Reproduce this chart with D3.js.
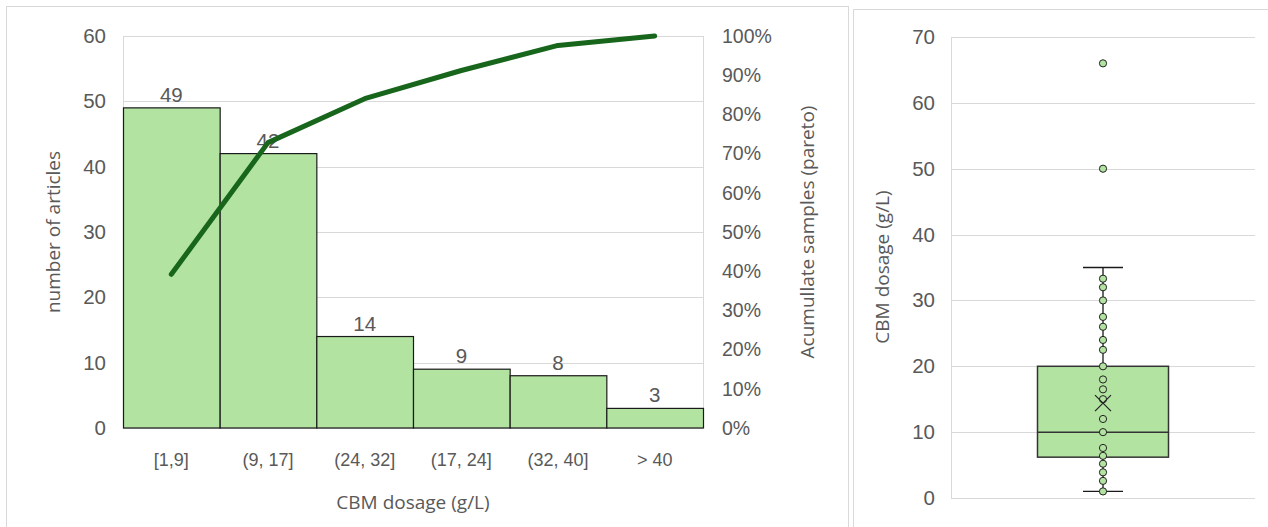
<!DOCTYPE html>
<html>
<head>
<meta charset="utf-8">
<script src="https://cdn.jsdelivr.net/npm/d3@7"></script>
<style>
  html, body { margin: 0; padding: 0; background: #fff; }
  svg { display: block; }
  text { font-family: "Liberation Sans", Arial, sans-serif; fill: #595959; }
  .lbl { font-family: "Open Sans", "Noto Sans", sans-serif; }
</style>
</head>
<body>
<svg id="chart" width="1268" height="527"></svg>
<script>
// ---------- data ----------
const categories = ["[1,9]", "(9, 17]", "(24, 32]", "(17, 24]", "(32, 40]", "> 40"];
const counts = [49, 42, 14, 9, 8, 3];
const cumulativePct = [0.392, 0.728, 0.84, 0.912, 0.976, 1.0];
const leftTicks = [0, 10, 20, 30, 40, 50, 60];
const rightTicks = [0, 0.1, 0.2, 0.3, 0.4, 0.5, 0.6, 0.7, 0.8, 0.9, 1.0];

const dosagePoints = [1, 2.6, 3.9, 5.2, 6.4, 7.6, 10, 12, 15, 16.5, 18, 20, 22.5, 24, 26, 27.5, 30, 32, 33.3, 50, 66];
const boxStats = { min: 1, q1: 6.2, median: 10, q3: 20, max: 35, mean: 14.4 };
const boxTicks = [0, 10, 20, 30, 40, 50, 60, 70];

// ---------- styles ----------
const barFill = "#b3e3a1";
const lineColor = "#17661c";
const gridColor = "#d9d9d9";
const textColor = "#595959";
const tickFont = 20.5;
const titleFont = 19;

const svg = d3.select("#chart");

// panel borders
svg.append("rect").attr("x", 6.5).attr("y", 6.5).attr("width", 842).attr("height", 540)
  .attr("fill", "#fff").attr("stroke", gridColor);
svg.append("rect").attr("x", 853.5).attr("y", 9.5).attr("width", 430).attr("height", 540)
  .attr("fill", "#fff").attr("stroke", gridColor);

// ---------- Left: histogram + pareto ----------
const L = { x0: 123, x1: 703, y0: 36, y1: 428 };
const x = d3.scaleBand().domain(categories).range([L.x0, L.x1]).padding(0);
const yL = d3.scaleLinear().domain([0, 60]).range([L.y1, L.y0]);
const yR = d3.scaleLinear().domain([0, 1]).range([L.y1, L.y0]);

const gL = svg.append("g");
// gridlines
gL.append("g").selectAll("line").data(leftTicks).join("line")
  .attr("x1", L.x0).attr("x2", L.x1)
  .attr("y1", d => Math.round(yL(d)) + 0.5).attr("y2", d => Math.round(yL(d)) + 0.5)
  .attr("stroke", gridColor).attr("stroke-width", 1);
gL.append("line").attr("x1", L.x0 + 0.5).attr("x2", L.x0 + 0.5).attr("y1", L.y0).attr("y2", L.y1)
  .attr("stroke", gridColor);
gL.append("line").attr("x1", L.x1 + 0.5).attr("x2", L.x1 + 0.5).attr("y1", L.y0).attr("y2", L.y1)
  .attr("stroke", gridColor);

// left axis
const axL = gL.append("g").attr("transform", `translate(${L.x0 - 17},0)`)
  .call(d3.axisLeft(yL).tickValues(leftTicks).tickSize(0).tickPadding(0));
axL.select(".domain").remove();
axL.selectAll("text").attr("font-size", tickFont).attr("fill", textColor)
  .attr("font-family", "Liberation Sans, Arial, sans-serif");

// right axis
const axR = gL.append("g").attr("transform", `translate(${L.x1 + 19},0)`)
  .call(d3.axisRight(yR).tickValues(rightTicks).tickFormat(d3.format(".0%")).tickSize(0).tickPadding(0));
axR.select(".domain").remove();
axR.selectAll("text").attr("font-size", 19.5).attr("fill", textColor)
  .attr("font-family", "Liberation Sans, Arial, sans-serif");

// bottom axis labels
const axB = gL.append("g").attr("transform", `translate(0,${L.y1 + 25})`)
  .call(d3.axisBottom(x).tickSize(0).tickPadding(0));
axB.select(".domain").remove();
axB.selectAll("text").attr("font-size", 18).attr("fill", textColor)
  .attr("font-family", "Open Sans, Noto Sans, sans-serif");

// bars
gL.append("g").selectAll("rect").data(counts).join("rect")
  .attr("x", (d, i) => x(categories[i]) + 0.5)
  .attr("y", d => yL(d))
  .attr("width", x.bandwidth())
  .attr("height", d => yL(0) - yL(d))
  .attr("fill", barFill).attr("stroke", "#1a1a1a").attr("stroke-width", 1.2);

// data labels
gL.append("g").selectAll("text").data(counts).join("text")
  .attr("x", (d, i) => x(categories[i]) + x.bandwidth() / 2)
  .attr("y", d => yL(d) - 6)
  .attr("text-anchor", "middle").attr("font-size", 20.5).attr("fill", textColor)
  .text(d => d);

// pareto line
const line = d3.line()
  .x((d, i) => x(categories[i]) + x.bandwidth() / 2)
  .y(d => yR(d));
gL.append("path").datum(cumulativePct).attr("d", line)
  .attr("fill", "none").attr("stroke", lineColor).attr("stroke-width", 5)
  .attr("stroke-linecap", "round").attr("stroke-linejoin", "round");

// axis titles
gL.append("text").attr("class", "lbl")
  .attr("transform", `translate(60,${(L.y0 + L.y1) / 2}) rotate(-90)`)
  .attr("text-anchor", "middle").attr("font-size", titleFont).text("number of articles");
gL.append("text").attr("class", "lbl")
  .attr("transform", `translate(814,${(L.y0 + L.y1) / 2}) rotate(-90)`)
  .attr("text-anchor", "middle").attr("font-size", titleFont).text("Acumullate samples (pareto)");
gL.append("text").attr("class", "lbl")
  .attr("x", 413).attr("y", 509)
  .attr("text-anchor", "middle").attr("font-size", titleFont).text("CBM dosage (g/L)");

// ---------- Right: box plot ----------
const R = { x0: 951, x1: 1255, y0: 37, y1: 498 };
const yB = d3.scaleLinear().domain([0, 70]).range([R.y1, R.y0]);
const xB = d3.scaleBand().domain(["CBM"]).range([R.x0, R.x1]);
const cx = xB("CBM") + xB.bandwidth() / 2;
const boxHalf = 65.5;
const capHalf = 20;

const gR = svg.append("g");
gR.append("g").selectAll("line").data(boxTicks).join("line")
  .attr("x1", R.x0).attr("x2", R.x1)
  .attr("y1", d => Math.round(yB(d)) + 0.5).attr("y2", d => Math.round(yB(d)) + 0.5)
  .attr("stroke", gridColor);
gR.append("line").attr("x1", R.x0 + 0.5).attr("x2", R.x0 + 0.5).attr("y1", R.y0).attr("y2", R.y1)
  .attr("stroke", gridColor);

const axBox = gR.append("g").attr("transform", `translate(${R.x0 - 16},0)`)
  .call(d3.axisLeft(yB).tickValues(boxTicks).tickSize(0).tickPadding(0));
axBox.select(".domain").remove();
axBox.selectAll("text").attr("font-size", tickFont).attr("fill", textColor)
  .attr("font-family", "Liberation Sans, Arial, sans-serif");

gR.append("text").attr("class", "lbl")
  .attr("transform", `translate(889,267) rotate(-90)`)
  .attr("text-anchor", "middle").attr("font-size", titleFont).text("CBM dosage (g/L)");

// whiskers
gR.append("line").attr("x1", cx).attr("x2", cx).attr("y1", yB(boxStats.max)).attr("y2", yB(boxStats.q3))
  .attr("stroke", "#1a1a1a").attr("stroke-width", 1.3);
gR.append("line").attr("x1", cx).attr("x2", cx).attr("y1", yB(boxStats.q1)).attr("y2", yB(boxStats.min))
  .attr("stroke", "#1a1a1a").attr("stroke-width", 1.3);
[boxStats.max, boxStats.min].forEach(v => {
  gR.append("line").attr("x1", cx - capHalf).attr("x2", cx + capHalf).attr("y1", yB(v)).attr("y2", yB(v))
    .attr("stroke", "#1a1a1a").attr("stroke-width", 1.3);
});
// box
gR.append("rect").attr("x", cx - boxHalf).attr("y", yB(boxStats.q3))
  .attr("width", boxHalf * 2).attr("height", yB(boxStats.q1) - yB(boxStats.q3))
  .attr("fill", barFill).attr("stroke", "#333").attr("stroke-width", 1.5);
gR.append("line").attr("x1", cx - boxHalf).attr("x2", cx + boxHalf)
  .attr("y1", yB(boxStats.median)).attr("y2", yB(boxStats.median))
  .attr("stroke", "#333").attr("stroke-width", 1.5);

// points
gR.append("g").selectAll("circle").data(dosagePoints).join("circle")
  .attr("cx", cx).attr("cy", d => yB(d)).attr("r", 3.6)
  .attr("fill", barFill).attr("stroke", "#222").attr("stroke-width", 1);

// mean marker
const my = yB(boxStats.mean), ms = 8;
gR.append("path")
  .attr("d", `M${cx - ms},${my - ms}L${cx + ms},${my + ms}M${cx - ms},${my + ms}L${cx + ms},${my - ms}`)
  .attr("stroke", "#222").attr("stroke-width", 1.2).attr("fill", "none");
</script>
</body>
</html>
